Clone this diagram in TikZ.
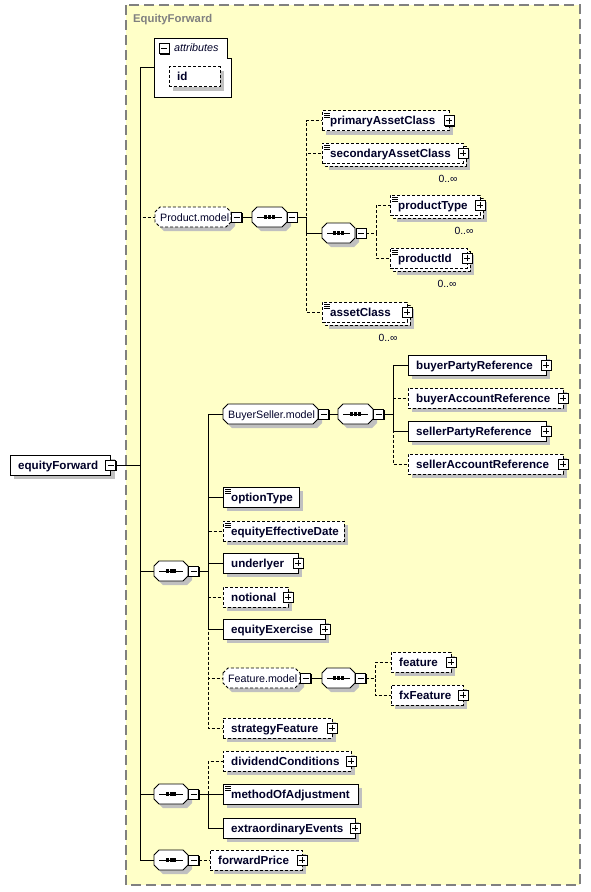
\documentclass[tikz,border=0pt]{standalone}
\usepackage{fontspec}
\setmainfont{Liberation Sans}
\usetikzlibrary{calc}
\definecolor{bgyel}{RGB}{255,255,200}
\definecolor{shd}{RGB}{192,192,192}
\definecolor{frm}{RGB}{128,128,128}
\definecolor{txt}{RGB}{0,0,40}
\tikzset{
 conn/.style={line width=0.9pt, black},
 opt/.style={dash pattern=on 3pt off 2pt},
 ebox/.style={draw, fill=white, line width=0.9pt, inner sep=0pt, outer sep=0pt, minimum height=20pt, anchor=west},
 etext/.style={font=\fontsize{11.6}{13}\selectfont\bfseries, text=txt, inner sep=0pt, anchor=base west},
 gtext/.style={font=\fontsize{10.7}{13}\selectfont, text=txt, inner sep=0pt, anchor=base west},
 mtext/.style={font=\fontsize{10.4}{12}\selectfont, text=txt, inner sep=0pt, anchor=base},
 pmbox/.style={draw, fill=white, line width=0.8pt, minimum size=10pt, inner sep=0pt, outer sep=0pt},
}
% element box: name, style, xl, xr, yc, text
\newcommand\xElem[6]{%
  \fill[shd] ({#3+4},{#5-6}) rectangle ({#4+4},{#5+14});
  \node[ebox,#2,minimum width={#4-#3}] (#1) at (#3,#5) {};
  \node[etext] (#1t) at ({#3+8},{#5+4}) {#6};
}
% multiple element: name, xl, xr, yc, text, label x
\newcommand\xMulti[6]{%
  \fill[shd] ({#2+7},{#4-3}) rectangle ({#3+7},{#4+17});
  \draw[opt, line width=0.9pt, fill=white] ({#2+3},{#4-7}) rectangle ({#3+3},{#4+13});
  \node[ebox,opt,minimum width={#3-#2}] (#1) at (#2,#4) {};
  \node[etext] (#1t) at ({#2+8},{#4+4}) {#5};
  \node[mtext] (#1l) at (#6,{#4+29}) {0..∞};
}
% icon: xl, yc
\newcommand\xIcon[2]{%
  \foreach \k in {2.5,4.5,6.5} \draw[line width=0.7pt] ({#1+2},{#2-10+\k}) -- ({#1+7.5},{#2-10+\k});
}
% octagon: name, style, xl, xr, yc
\newcommand\xOct[5]{%
  \fill[shd] ({#3+4},{#5-1}) -- ({#3+9},{#5-6}) -- ({#4-1},{#5-6}) -- ({#4+4},{#5-1}) -- ({#4+4},{#5+9}) -- ({#4-1},{#5+14}) -- ({#3+9},{#5+14}) -- ({#3+4},{#5+9}) -- cycle;
  \node[inner sep=0pt, outer sep=0pt, minimum width={#4-#3}, minimum height=20pt, anchor=west] (#1) at (#3,#5) {};
  \draw[line width=0.9pt, fill=white, #2] ({#3},{#5-5}) -- ({#3+5},{#5-10}) -- ({#4-5},{#5-10}) -- ({#4},{#5-5}) -- ({#4},{#5+5}) -- ({#4-5},{#5+10}) -- ({#3+5},{#5+10}) -- ({#3},{#5+5}) -- cycle;
}
% model group: name, style, xl, xr, yc, text
\newcommand\xGrp[6]{%
  \xOct{#1}{#2}{#3}{#4}{#5}
  \node[gtext] (#1t) at ({#3+5},{#5+4}) {#6};
}
% sequence: name, xl, xr, yc
\newcommand\xSeq[4]{%
  \xOct{#1}{solid}{#2}{#3}{#4}
  \draw[line width=1pt] ({#2+5},{#4}) -- ({#3-5},{#4});
  \foreach \d in {-5.2,-1.5,2.2} \fill[black] ({(#2+#3)/2+\d},{#4-1.6}) rectangle ++(3,3.2);
}
\newcommand\xPM[2]{%
  \fill ($(#2)+(-3.6,-3.6)$) rectangle ($(#2)+(6.4,6.4)$);
  \node[pmbox] (#1) at (#2) {};
  \draw[line width=0.8pt] ($(#1.west)+(2,0)$) -- ($(#1.east)+(-2,0)$);
}
\newcommand\xPlus[2]{%
  \xPM{#1}{#2}
  \draw[line width=0.8pt] ($(#1.north)+(0,2)$) -- ($(#1.south)+(0,-2)$);
}
\begin{document}
\begin{tikzpicture}[x=1pt,y=-1pt]
\useasboundingbox (0,0) rectangle (591,892);
\fill[white] (0,0) rectangle (591,892);
\draw[frm, line width=1.3pt, dash pattern=on 10pt off 5pt, fill=bgyel] (126,5) rectangle (580,885);
\node[font=\fontsize{11.3}{13}\selectfont\bfseries, text=frm, anchor=base west, inner sep=0pt] (title) at (133,22) {EquityForward};

% bus coordinates
\coordinate (B0) at (140,0);
\coordinate (B1) at (306,0);
\coordinate (B1b) at (376,0);
\coordinate (B2) at (208,0);
\coordinate (B2b) at (393,0);
\coordinate (B2c) at (375,0);

% root
\xElem{ef}{solid}{10}{110.5}{465}{equityForward}
\xPM{efm}{ef.east}

% attributes
\node[inner sep=0pt, outer sep=0pt, minimum width=77.5pt, minimum height=59pt, anchor=north west] (attr) at (154,38) {};
\draw[line width=0.9pt, fill=white] (154,38) -- (227,38) -- (227,58) -- (231.5,58) -- (231.5,97) -- (154,97) -- cycle;
\xPM{attrm}{164,48.5}
\node[font=\fontsize{10.8}{13}\selectfont\itshape, text=txt, anchor=base west, inner sep=0pt] (attrt) at (174,51.5) {attributes};
\xElem{idb}{opt}{169}{220}{76.5}{id}

% Product.model
\xGrp{pmod}{opt}{155}{231}{217}{Product.model}
\xPM{pmodm}{236.5,217}
\xSeq{s1}{252}{287}{217}
\xPM{s1m}{292,217}
\xElem{pac}{opt}{322}{449}{120.5}{primaryAssetClass}
\xIcon{322}{120.5}
\xPlus{pacp}{pac.east}
\xMulti{sac}{322}{463}{153}{secondaryAssetClass}{448}
\xIcon{322}{153}
\xPlus{sacp}{sac.east}
\xSeq{s1b}{322}{355}{233}
\xPM{s1bm}{361,233}
\xMulti{pty}{390}{480}{205}{productType}{464}
\xIcon{390}{205}
\xPlus{ptyp}{pty.east}
\xMulti{pid}{390}{467}{258}{productId}{447}
\xIcon{390}{258}
\xPlus{pidp}{pid.east}
\xMulti{acl}{322}{407}{312}{assetClass}{388}
\xIcon{322}{312}
\xPlus{aclp}{acl.east}

% main sequence
\xSeq{s2}{154}{188}{571}
\xPM{s2m}{193.5,571}
\xGrp{bsm}{solid}{223}{318}{414}{BuyerSeller.model}
\xPM{bsmm}{323.5,414}
\xSeq{s2b}{338}{373}{414}
\xPM{s2bm}{378.5,414}
\xElem{bpr}{solid}{408}{546}{365}{buyerPartyReference}
\xPlus{bprp}{bpr.east}
\xElem{bar}{opt}{408}{563}{398}{buyerAccountReference}
\xPlus{barp}{bar.east}
\xElem{spr}{solid}{408}{546}{431}{sellerPartyReference}
\xPlus{sprp}{spr.east}
\xElem{sar}{opt}{408}{563}{464}{sellerAccountReference}
\xPlus{sarp}{sar.east}
\xElem{oty}{solid}{223}{299}{497}{optionType}
\xIcon{223}{497}
\xElem{eed}{opt}{223}{344}{531}{equityEffectiveDate}
\xIcon{223}{531}
\xElem{und}{solid}{223}{298}{563}{underlyer}
\xPlus{undp}{und.east}
\xElem{ntl}{opt}{223}{288}{597}{notional}
\xPlus{ntlp}{ntl.east}
\xElem{eex}{solid}{223}{325}{629}{equityExercise}
\xPlus{eexp}{eex.east}
\xGrp{fmod}{opt}{223}{300}{678}{Feature.model}
\xPM{fmodm}{305.5,678}
\xSeq{s2c}{322}{355}{678}
\xPM{s2cm}{360.5,678}
\xElem{fea}{opt}{391}{451}{662}{feature}
\xPlus{feap}{fea.east}
\xElem{fxf}{opt}{391}{463}{695}{fxFeature}
\xPlus{fxfp}{fxf.east}
\xElem{stf}{opt}{223}{332}{728}{strategyFeature}
\xPlus{stfp}{stf.east}

% second sequence
\xSeq{s3}{154}{188}{794}
\xPM{s3m}{193.5,794}
\xElem{dvc}{opt}{223}{351}{761}{dividendConditions}
\xPlus{dvcp}{dvc.east}
\xElem{moa}{solid}{223}{358}{794}{methodOfAdjustment}
\xIcon{223}{794}
\xElem{exe}{solid}{223}{355}{828}{extraordinaryEvents}
\xPlus{exep}{exe.east}

% third sequence
\xSeq{s4}{154}{188}{860}
\xPM{s4m}{193.5,860}
\xElem{fwp}{opt}{210}{302}{860}{forwardPrice}
\xPlus{fwpp}{fwp.east}

% ---- connectors ----
% main bus
\draw[conn,opt] (efm.east) -| (B0 |- pmod.west) -- (pmod.west);
\draw[conn] (efm.east) -| (B0 |- attr.west) -- (attr.west);
\draw[conn] (efm.east) -| (B0 |- s2.west) -- (s2.west);
\draw[conn] (efm.east) -| (B0 |- s3.west) -- (s3.west);
\draw[conn] (efm.east) -| (B0 |- s4.west) -- (s4.west);
% product model
\draw[conn] (pmodm.east) -- (s1.west);
\draw[conn,opt] (s1m.east) -| (B1 |- pac.west) -- (pac.west);
\draw[conn,opt] (s1m.east) -| (B1 |- sac.west) -- (sac.west);
\draw[conn,opt] (s1m.east) -| (B1 |- acl.west) -- (acl.west);
\draw[conn] (s1m.east) -| (B1 |- s1b.west) -- (s1b.west);
\draw[conn,opt] (s1bm.east) -| (B1b |- pty.west) -- (pty.west);
\draw[conn,opt] (s1bm.east) -| (B1b |- pid.west) -- (pid.west);
% main sequence
\draw[conn,opt] (s2m.east) -| (B2 |- eed.west) -- (eed.west);
\draw[conn,opt] (s2m.east) -| (B2 |- ntl.west) -- (ntl.west);
\draw[conn,opt] (s2m.east) -| (B2 |- fmod.west) -- (fmod.west);
\draw[conn,opt] (s2m.east) -| (B2 |- stf.west) -- (stf.west);
\draw[conn] (s2m.east) -| (B2 |- bsm.west) -- (bsm.west);
\draw[conn] (s2m.east) -| (B2 |- oty.west) -- (oty.west);
\draw[conn] (s2m.east) -| (B2 |- und.west) -- (und.west);
\draw[conn] (s2m.east) -| (B2 |- eex.west) -- (eex.west);
% buyer seller
\draw[conn] (bsmm.east) -- (s2b.west);
\draw[conn,opt] (s2bm.east) -| (B2b |- bar.west) -- (bar.west);
\draw[conn,opt] (s2bm.east) -| (B2b |- sar.west) -- (sar.west);
\draw[conn] (s2bm.east) -| (B2b |- bpr.west) -- (bpr.west);
\draw[conn] (s2bm.east) -| (B2b |- spr.west) -- (spr.west);
% feature model
\draw[conn] (fmodm.east) -- (s2c.west);
\draw[conn,opt] (s2cm.east) -| (B2c |- fea.west) -- (fea.west);
\draw[conn,opt] (s2cm.east) -| (B2c |- fxf.west) -- (fxf.west);
% second sequence
\draw[conn,opt] (s3m.east) -| (B2 |- dvc.west) -- (dvc.west);
\draw[conn] (s3m.east) -- (moa.west);
\draw[conn] (s3m.east) -| (B2 |- exe.west) -- (exe.west);
% third sequence
\draw[conn,opt] (s4m.east) -- (fwp.west);
\end{tikzpicture}
\end{document}
